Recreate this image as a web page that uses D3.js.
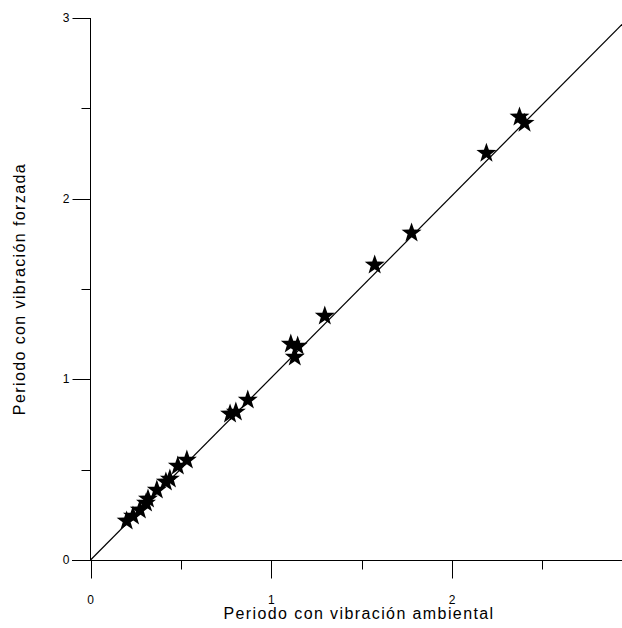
<!DOCTYPE html>
<html><head><meta charset="utf-8">
<script src="https://cdn.jsdelivr.net/npm/d3@7"></script>
<style>body{margin:0;background:#fff}</style>
</head><body>
<script>
const ambiental = [0.20,0.235,0.273,0.307,0.318,0.367,0.417,0.439,0.483,0.533,0.772,0.804,0.870,1.108,1.146,1.130,1.296,1.572,1.776,2.190,2.373,2.401];
const forzada   = [0.216,0.243,0.277,0.315,0.338,0.387,0.432,0.448,0.520,0.553,0.808,0.819,0.885,1.195,1.184,1.123,1.350,1.633,1.810,2.252,2.452,2.418];
const fitX = [0, 2.94];
const fitY = [0, 2.965];
const majorTicks = [0,1,2,3];
const minorTicks = [0.5,1.5,2.5];
const xTitle = "Periodo con vibración ambiental";
const yTitle = "Periodo con vibración forzada";

const W=622,H=628;
const svg=d3.select("body").append("svg").attr("width",W).attr("height",H);
const x=d3.scaleLinear().domain([0,2.94]).range([90.5,622]);
const y=d3.scaleLinear().domain([0,3]).range([560,18]);
const font="'Liberation Sans', Arial, sans-serif";

// x axis
const gx=svg.append("g").attr("transform","translate(0,560.5)");
gx.append("line").attr("x1",72).attr("x2",622).attr("stroke","#000");
gx.selectAll(".mj").data(majorTicks.filter(d=>d<=2.94)).enter().append("line")
  .attr("x1",d=>Math.round(x(d))+0.5).attr("x2",d=>Math.round(x(d))+0.5).attr("y1",0).attr("y2",18).attr("stroke","#000");
gx.selectAll(".mn").data(minorTicks).enter().append("line")
  .attr("x1",d=>Math.round(x(d))+0.5).attr("x2",d=>Math.round(x(d))+0.5).attr("y1",0).attr("y2",9).attr("stroke","#000");
gx.selectAll(".tl").data(majorTicks.filter(d=>d<=2.94)).enter().append("text")
  .attr("x",d=>x(d)).attr("y",43).attr("text-anchor","middle").attr("font-family",font).attr("font-size",12).text(d=>d);

// y axis
const gy=svg.append("g").attr("transform","translate(90.5,0)");
gy.append("line").attr("y1",18).attr("y2",560).attr("stroke","#000");
gy.selectAll(".mj").data(majorTicks).enter().append("line")
  .attr("y1",d=>Math.round(y(d))+0.5).attr("y2",d=>Math.round(y(d))+0.5).attr("x1",0).attr("x2",-18).attr("stroke","#000");
gy.selectAll(".mn").data(minorTicks).enter().append("line")
  .attr("y1",d=>Math.round(y(d))+0.5).attr("y2",d=>Math.round(y(d))+0.5).attr("x1",0).attr("x2",-9).attr("stroke","#000");
gy.selectAll(".tl").data(majorTicks).enter().append("text")
  .attr("x",-21).attr("y",d=>y(d)+4).attr("text-anchor","end").attr("font-family",font).attr("font-size",12).text(d=>d);

// titles
svg.append("text").attr("x",359).attr("y",619).attr("text-anchor","middle").attr("font-family",font)
  .attr("font-size",16).attr("letter-spacing","1.4px").text(xTitle);
svg.append("text").attr("transform","translate(25,289) rotate(-90)").attr("text-anchor","middle").attr("font-family",font)
  .attr("font-size",16).attr("letter-spacing","1.4px").text(yTitle);

// fit line
svg.append("line").attr("x1",x(fitX[0])).attr("y1",y(fitY[0])).attr("x2",x(fitX[1])).attr("y2",y(fitY[1]))
  .attr("stroke","#000").attr("stroke-width",1.2);

// stars
function starPath(R,r){
  const pts=[];
  for(let i=0;i<10;i++){
    const a=-Math.PI/2+i*Math.PI/5;
    const rr=i%2===0?R:r;
    pts.push([rr*Math.cos(a),rr*Math.sin(a)]);
  }
  return "M"+pts.map(p=>p[0].toFixed(2)+","+p[1].toFixed(2)).join("L")+"Z";
}
const sp=starPath(10.5,4.2);
svg.selectAll(".star").data(ambiental.map((d,i)=>[d,forzada[i]])).enter().append("path")
  .attr("d",sp).attr("transform",d=>`translate(${x(d[0])},${y(d[1])})`).attr("fill","#000");
</script>
</body></html>
